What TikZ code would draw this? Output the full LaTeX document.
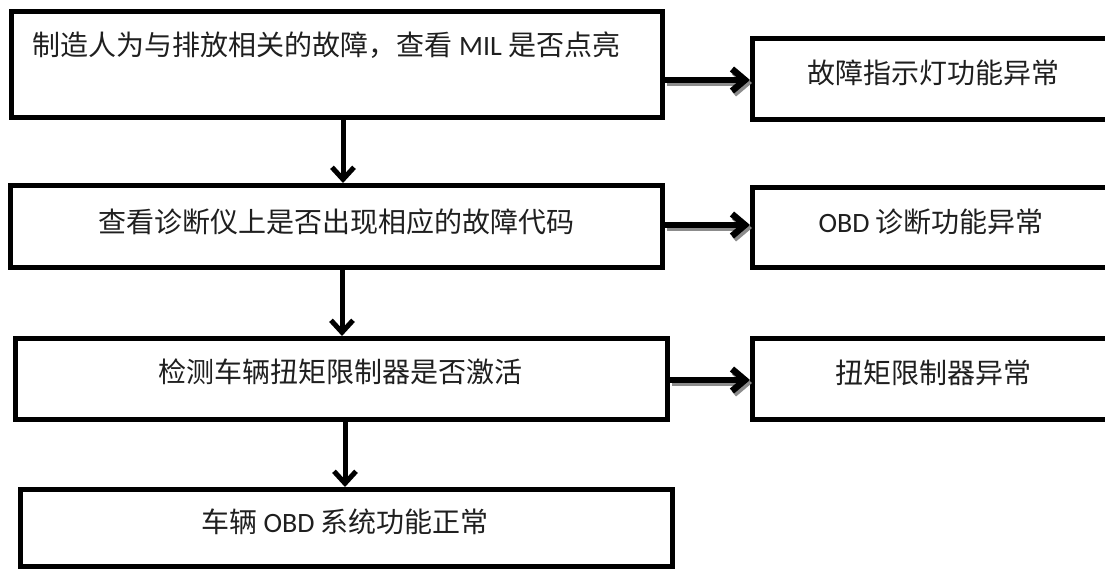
\documentclass[tikz,border=0pt]{standalone}
\usepackage{fontspec}
\setmainfont{Noto Sans CJK SC}
\newfontfamily\lat{Carlito}
\usetikzlibrary{arrows.meta,calc}
\begin{document}
\begin{tikzpicture}[x=1pt,y=-1pt,
  box/.style={draw=black, line width=5pt, fill=white, inner sep=0pt},
  txt/.style={text=black!88, font=\fontsize{28pt}{32pt}\selectfont, inner sep=0pt},
  varrow/.style={line width=5pt, -{Straight Barb[length=12pt,width=22pt]}},
  harrow/.style={line width=6.5pt, -{Straight Barb[length=13pt,width=22pt]}},
  shadowed/.style={draw=black!45, transform canvas={shift={(2pt,-3pt)}}}
]
\useasboundingbox[fill=white] (0,0) rectangle (1105,570);

% left column
\node[box, minimum width=651pt, minimum height=105.5pt,
  label={[txt, xshift=-10.5pt, yshift=19pt]center:制造人为与排放相关的故障，查看 {\lat MIL} 是否点亮}]
  (b1) at (337,64.25) {};
\node[box, minimum width=652pt, minimum height=81.5pt,
  label={[txt, xshift=-0.5pt, yshift=4pt]center:查看诊断仪上是否出现相应的故障代码}]
  (b2) at (336.5,226.25) {};
\node[box, minimum width=652pt, minimum height=81pt,
  label={[txt, xshift=-1pt, yshift=7pt]center:检测车辆扭矩限制器是否激活}]
  (b3) at (341,379) {};
\node[box, minimum width=652pt, minimum height=77pt,
  label={[txt, xshift=-1.5pt, yshift=6pt]center:车辆 {\lat OBD} 系统功能正常}]
  (b4) at (346.5,528) {};

% right column
\node[box, minimum width=359.5pt, minimum height=81pt,
  label={[txt, xshift=0.75pt, yshift=6.5pt]center:故障指示灯功能异常}]
  (ra) at (932.25,79) {};
\node[box, minimum width=359.5pt, minimum height=80pt,
  label={[txt, xshift=-1pt, yshift=5.5pt]center:{\lat OBD} 诊断功能异常}]
  (rb) at (932.25,227.5) {};
\node[box, minimum width=359.5pt, minimum height=81pt,
  label={[txt, xshift=0.75pt, yshift=6pt]center:扭矩限制器异常}]
  (rc) at (932.25,379) {};

% vertical arrows
\draw[varrow] (b1.south -| 343,0) -- (b2.north -| 343,0);
\draw[varrow] (b2.south -| 342,0) -- (b3.north -| 342,0);
\draw[varrow] (b3.south -| 345,0) -- (b4.north -| 345,0);

% horizontal arrows with shadow
\draw[harrow, shadowed] (b1.east |- 0,80) -- (ra.west |- 0,80);
\draw[harrow] (b1.east |- 0,80) -- (ra.west |- 0,80);
\draw[harrow, shadowed] (b2.east |- 0,225) -- (rb.west |- 0,225);
\draw[harrow] (b2.east |- 0,225) -- (rb.west |- 0,225);
\draw[harrow, shadowed] (b3.east |- 0,380) -- (rc.west |- 0,380);
\draw[harrow] (b3.east |- 0,380) -- (rc.west |- 0,380);
\end{tikzpicture}
\end{document}
